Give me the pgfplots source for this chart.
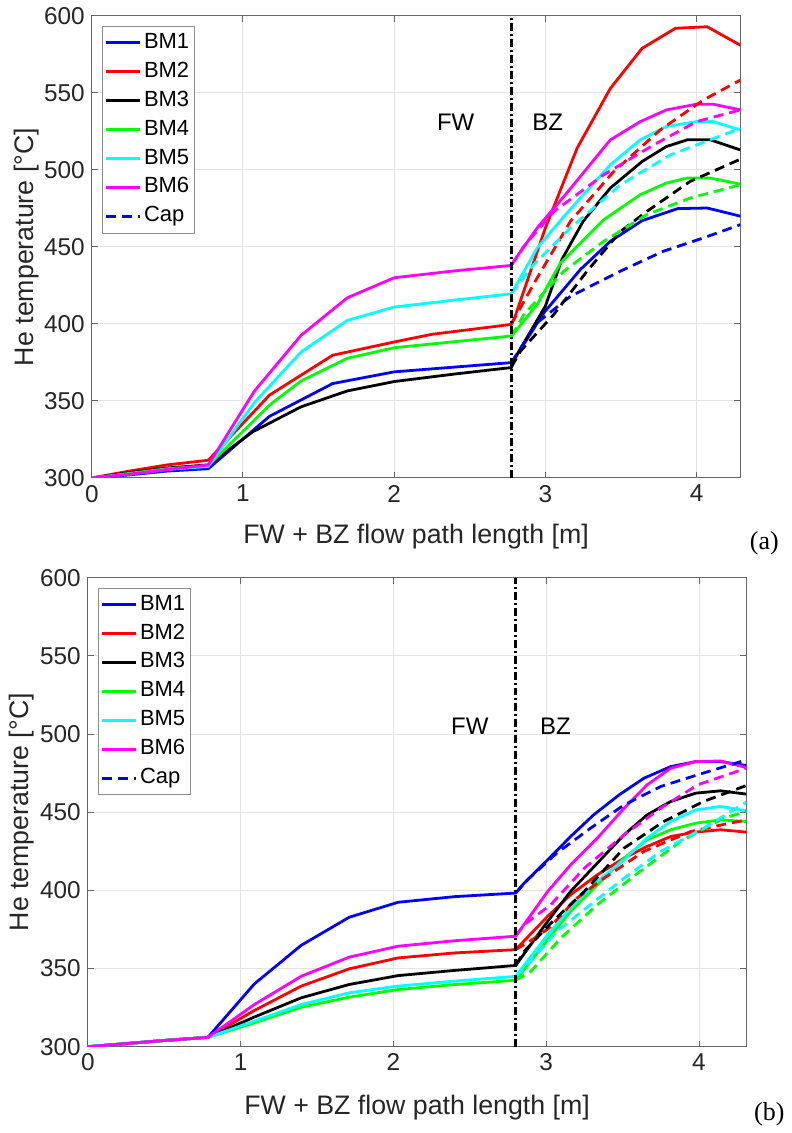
\documentclass[border=0pt]{standalone}
\usepackage{fontspec}
\setmainfont{Liberation Sans}
\newfontfamily\timesfont{Liberation Serif}
\usepackage{pgfplots}
\pgfplotsset{compat=1.18}
\definecolor{axgray}{rgb}{0.15,0.15,0.15}
\definecolor{mblue}{rgb}{0,0,1}
\definecolor{mred}{rgb}{1,0,0}
\definecolor{mgreen}{rgb}{0,1,0}
\definecolor{mcyan}{rgb}{0,1,1}
\definecolor{mmag}{rgb}{1,0,1}
\pgfplotsset{
  mystyle/.style={
    scale only axis,
    xmin=0, ymin=300, ymax=600,
    xtick={0,1,2,3,4}, ytick={300,350,...,600},
    grid=major,
    major grid style={color=black!11, line width=0.5pt},
    axis line style={color=black!60, line width=0.5pt},
    tick style={color=black!60, line width=0.5pt},
    major tick length=3pt,
    tick align=inside,
    ticklabel style={font=\fontsize{12.2}{14}\selectfont, text=axgray},
    /pgf/number format/assume math mode=true,
    label style={font=\fontsize{13.4}{16}\selectfont, text=axgray},
    xlabel={FW + BZ flow path length [m]},
    ylabel={He temperature [°C]},
    legend cell align=left,
    legend style={anchor=north west, draw=black!45, fill=white,
      font=\fontsize{11}{13}\selectfont, row sep=1pt, inner xsep=1pt, inner ysep=1.5pt,
      nodes={inner sep=1.5pt, text height=8pt, text depth=2.5pt}},
    every axis plot/.append style={line width=1.4pt},
  },
  cap/.style={dash pattern=on 5pt off 3pt},
  divider/.style={black, forget plot, line width=1.2pt, dash pattern=on 4pt off 1.5pt on 1pt off 1.5pt},
}
\begin{document}
\begin{tikzpicture}
\path (0,0) rectangle (394pt,566.5pt);
% ---------------- (a) ----------------
\begin{axis}[mystyle, at={(46pt,327pt)}, anchor=south west,
  width=325pt, height=231.5pt, xmax=4.29,
  xlabel style={at={(axis description cs:0.5,-0.1274)}, anchor=center},
  ylabel style={at={(axis description cs:-0.1,0.5)}, anchor=center},
  legend style={at={(0.0154,0.9784)}}]
\addplot[mblue] coordinates {(0,300) (0.25,302) (0.5,304.5) (0.77,306) (1.175,340) (1.593,361.3) (2.0,368.9) (2.4,372) (2.775,374.9) (2.80,378) (2.99,407.3) (3.232,435.4) (3.43,453.7) (3.64,467.1) (3.875,474.9) (4.07,475.3) (4.29,470)};
\addlegendentry{BM1}
\addplot[mred] coordinates {(0,300) (0.25,304.5) (0.5,308.5) (0.77,311.5) (1.175,353.8) (1.593,379.7) (2.0,388.3) (2.25,393.3) (2.775,399.7) (2.80,405) (3.0,462.4) (3.21,514.2) (3.43,553) (3.64,579) (3.86,592) (4.07,593) (4.29,581)};
\addlegendentry{BM2}
\addplot[black] coordinates {(0,300) (0.25,303.5) (0.5,306.5) (0.77,308.5) (1.065,330) (1.384,346.2) (1.69,356.5) (2.0,362.6) (2.4,367.5) (2.775,371.7) (2.80,378) (3.0,411.6) (3.11,442) (3.25,466.7) (3.43,488.3) (3.64,505.5) (3.80,515.2) (3.94,519.6) (4.09,519.6) (4.29,513)};
\addlegendentry{BM3}
\addplot[mgreen] coordinates {(0,300) (0.25,303) (0.5,306) (0.77,308) (1.175,347.3) (1.384,363) (1.69,377.7) (2.0,384.6) (2.4,388.5) (2.775,392.2) (2.80,395) (2.946,412.7) (3.10,439.7) (3.386,467.7) (3.628,484) (3.80,491.5) (3.94,494.8) (4.09,494.8) (4.29,490.8)};
\addlegendentry{BM4}
\addplot[mcyan] coordinates {(0,300) (0.25,302.5) (0.5,305.5) (0.77,307.5) (1.076,349) (1.384,381.8) (1.69,402.3) (2.0,411) (2.4,415.5) (2.775,419.6) (2.80,424) (2.946,449.4) (3.133,471) (3.43,503.4) (3.628,519.6) (3.80,528.2) (4.0,531.4) (4.11,531.4) (4.29,526)};
\addlegendentry{BM5}
\addplot[mmag] coordinates {(0,300) (0.25,302.5) (0.5,305.5) (0.77,308.4) (1.076,356.5) (1.384,392.6) (1.69,417) (2.0,430) (2.4,434.5) (2.775,438) (2.80,442) (2.946,462.4) (3.133,484) (3.43,519.6) (3.628,531.4) (3.80,539) (4.0,542.7) (4.11,542.7) (4.29,539)};
\addlegendentry{BM6}
\addplot[mblue, cap] coordinates {(2.775,375) (2.946,400.8) (3.166,418) (3.496,434.3) (3.78,447.2) (4.046,455.9) (4.29,464.5)};
\addlegendentry{Cap}
\addplot[mred, cap, forget plot] coordinates {(2.775,400) (2.946,430) (3.166,466.7) (3.452,499) (3.76,526) (4.046,545.5) (4.29,558.4)};
\addplot[black, cap, forget plot] coordinates {(2.775,372) (2.836,382.4) (3.056,406.2) (3.276,434.3) (3.496,460) (3.67,473) (3.958,492.6) (4.29,507)};
\addplot[mgreen, cap, forget plot] coordinates {(2.775,392) (2.858,406.2) (3.122,434.3) (3.386,453.7) (3.67,471) (3.958,481.8) (4.29,490.4)};
\addplot[mcyan, cap, forget plot] coordinates {(2.775,419.6) (2.924,438.6) (3.166,462.4) (3.496,490.4) (3.826,509.8) (4.09,519.6) (4.29,527)};
\addplot[mmag, cap, forget plot] coordinates {(2.775,438) (2.858,450.5) (3.056,473) (3.386,496.9) (3.716,516.3) (4.0,531.4) (4.29,539)};
\addplot[divider] coordinates {(2.775,300) (2.775,600)};
\node[font=\fontsize{12}{14}\selectfont] at (axis cs:2.407,531.2) {FW};
\node[font=\fontsize{12}{14}\selectfont] at (axis cs:3.015,531.2) {BZ};
\end{axis}
\node[font=\timesfont\fontsize{13}{15}\selectfont] at (383pt,294.5pt) {(a)};
% ---------------- (b) ----------------
\begin{axis}[mystyle, at={(44pt,42pt)}, anchor=south west,
  width=330pt, height=235pt, xmax=4.31,
  xlabel style={at={(axis description cs:0.5,-0.13)}, anchor=center},
  ylabel style={at={(axis description cs:-0.1,0.5)}, anchor=center},
  legend style={at={(0.01515,0.9787)}}]
\addplot[mblue] coordinates {(0,300) (0.25,302) (0.5,304) (0.786,306) (1.09,340.2) (1.397,364.9) (1.71,382.8) (2.03,392.4) (2.4,396) (2.80,398.3) (2.856,404.7) (3.01,419.6) (3.16,434.5) (3.31,448.3) (3.477,461.1) (3.64,471.8) (3.815,479.2) (3.978,482.4) (4.14,482.4) (4.31,479.9)};
\addlegendentry{BM1}
\addplot[mred] coordinates {(0,300) (0.25,302) (0.5,304) (0.786,306) (1.09,323.2) (1.397,338.8) (1.71,349.8) (2.03,356.8) (2.4,360) (2.80,362.1) (3.01,383.5) (3.16,397.3) (3.335,410) (3.51,420.7) (3.66,428.1) (3.815,434.5) (3.978,437.3) (4.14,438.8) (4.31,437.3)};
\addlegendentry{BM2}
\addplot[black] coordinates {(0,300) (0.25,302) (0.5,304) (0.786,306) (1.09,319) (1.397,331.3) (1.71,339.8) (2.03,345.5) (2.4,348.8) (2.80,352) (3.01,380.3) (3.16,399.4) (3.335,417.5) (3.51,435.6) (3.66,448.3) (3.815,456.9) (3.978,462.2) (4.14,463.7) (4.31,461.6)};
\addlegendentry{BM3}
\addplot[mgreen] coordinates {(0,300) (0.25,302) (0.5,304) (0.786,306) (1.09,315.3) (1.397,325.3) (1.71,331.7) (2.03,336.6) (2.4,339.8) (2.80,342.5) (3.01,368.5) (3.16,386.7) (3.335,403.6) (3.51,420.7) (3.66,432.4) (3.815,438.8) (3.978,443) (4.14,445.1) (4.31,444.1)};
\addlegendentry{BM4}
\addplot[mcyan] coordinates {(0,300) (0.25,302) (0.5,304) (0.786,306) (1.09,316.4) (1.397,327) (1.71,334.5) (2.03,338.8) (2.4,342) (2.80,345) (3.01,371.7) (3.16,388.8) (3.335,405.8) (3.51,419.6) (3.66,433.5) (3.815,444.1) (3.978,451.5) (4.14,453.7) (4.31,450.9)};
\addlegendentry{BM5}
\addplot[mmag] coordinates {(0,300) (0.25,302) (0.5,304) (0.786,306) (1.09,327) (1.397,345.1) (1.71,357.3) (2.03,364.3) (2.4,367.8) (2.80,370.7) (3.01,399.4) (3.16,416.4) (3.335,433.5) (3.51,452.6) (3.66,467.5) (3.815,478.2) (3.978,482.4) (4.14,482.8) (4.31,478.6)};
\addlegendentry{BM6}
\addplot[mblue, cap] coordinates {(2.80,398.3) (2.878,406.8) (3.07,423.9) (3.29,439.8) (3.51,454.7) (3.75,466.5) (3.99,473.9) (4.31,483.5)};
\addlegendentry{Cap}
\addplot[mred, cap, forget plot] coordinates {(2.80,362.1) (2.9,368) (3.02,376) (3.2,395) (3.38,407.9) (3.64,425) (3.946,437.7) (4.2,443) (4.31,445)};
\addplot[black, cap, forget plot] coordinates {(2.80,352) (2.856,361) (3.03,379) (3.25,399.4) (3.51,427.1) (3.77,444.1) (4.03,456.9) (4.31,467.1)};
\addplot[mgreen, cap, forget plot] coordinates {(2.80,342.5) (2.9,348.3) (3.096,369.6) (3.335,390.9) (3.6,411.1) (3.88,431.4) (4.16,446.2) (4.31,450.5)};
\addplot[mcyan, cap, forget plot] coordinates {(2.80,345) (2.878,352.6) (3.07,373.9) (3.29,390.9) (3.51,407.9) (3.75,425) (4.03,439.8) (4.31,456.5)};
\addplot[mmag, cap, forget plot] coordinates {(2.80,370.7) (2.856,378.1) (3.03,390.9) (3.25,414.3) (3.51,435.6) (3.75,452.6) (3.99,467.5) (4.31,478.2)};
\addplot[divider] coordinates {(2.80,300) (2.80,600)};
\node[font=\fontsize{12}{14}\selectfont] at (axis cs:2.50,505.3) {FW};
\node[font=\fontsize{12}{14}\selectfont] at (axis cs:3.06,505.3) {BZ};
\end{axis}
\node[font=\timesfont\fontsize{13}{15}\selectfont] at (385.5pt,8pt) {(b)};
\end{tikzpicture}
\end{document}
